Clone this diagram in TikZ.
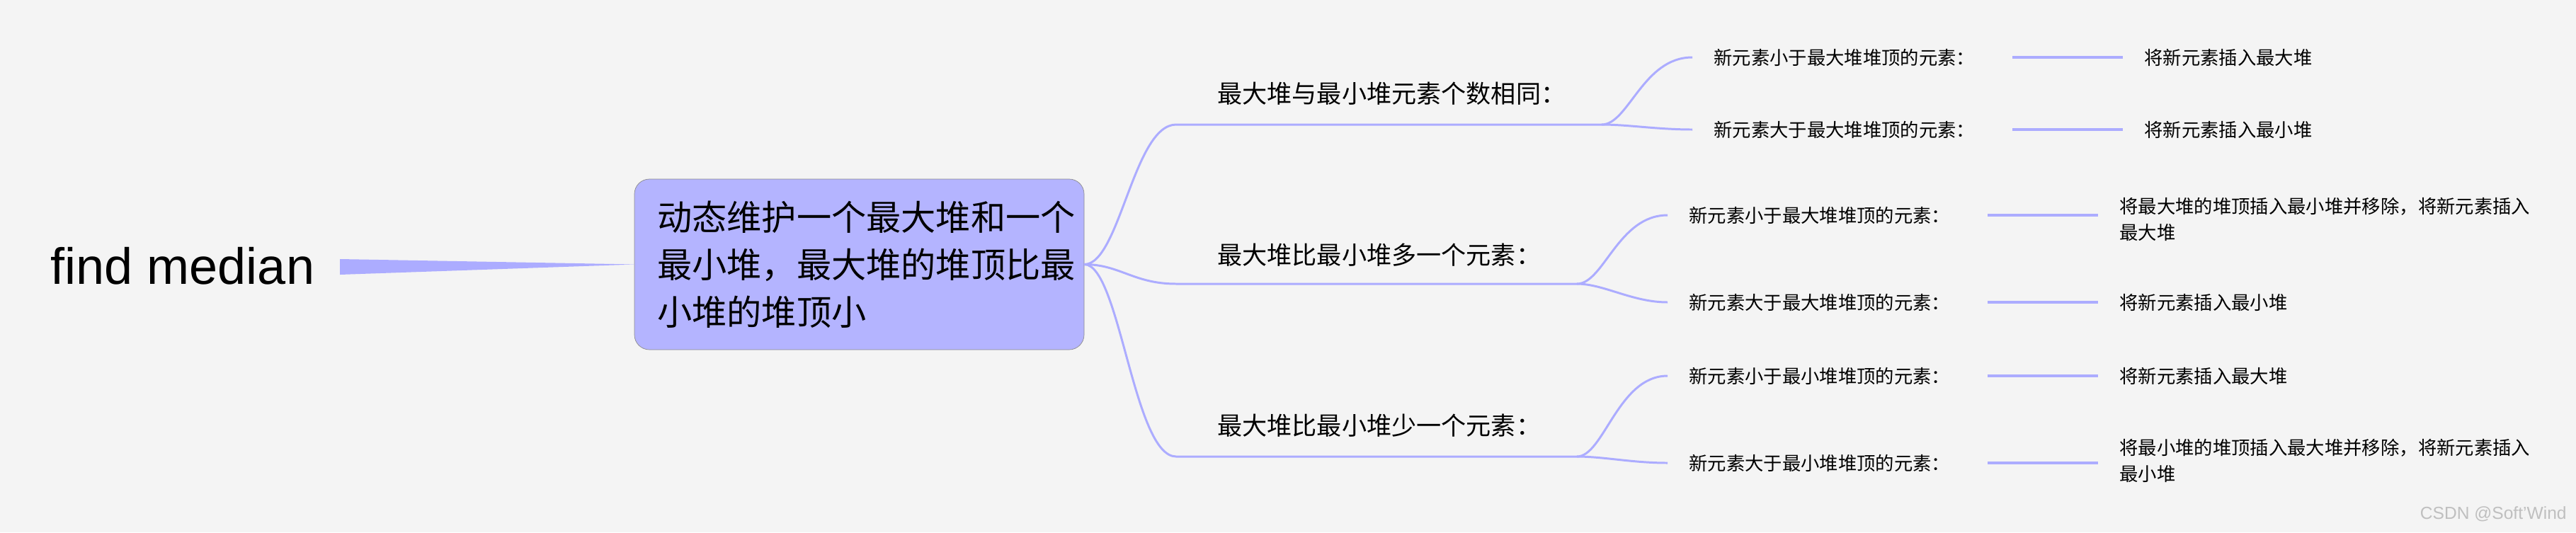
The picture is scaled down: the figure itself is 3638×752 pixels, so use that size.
\documentclass[tikz,border=0pt]{standalone}
\usepackage{fontspec}
\usetikzlibrary{calc}
\setmainfont{Liberation Sans}
\newfontfamily\cjk{Noto Sans CJK SC}
\begin{document}
\begin{tikzpicture}[x=0.02cm,y=-0.02cm,
  conn/.style={draw=lineblue,line width=1.7pt},
  short/.style={draw=lineblue,line width=2.8pt},
  brtext/.style={anchor=west,inner sep=0,font=\cjk\fontsize{20}{24}\selectfont},
  lftext/.style={anchor=west,inner sep=0,font=\cjk\fontsize{15}{18}\selectfont},
  lf2text/.style={anchor=north west,inner sep=0,align=left,font=\cjk\fontsize{15}{21}\selectfont}]
\definecolor{lineblue}{RGB}{172,172,255}
\definecolor{boxblue}{RGB}{180,180,255}
\definecolor{bg}{RGB}{244,244,244}
\fill[bg] (0,0) rectangle (3638,752);
\useasboundingbox (0,0) rectangle (3638,752);
% root
\node[anchor=center,inner sep=0,font=\fontsize{41}{48}\selectfont] (root) at (258,376) {find median};
\node[draw=black!45,fill=boxblue,rounded corners=12pt,minimum width=635*0.02cm,minimum height=241*0.02cm,inner sep=0] (main) at (1213.5,373.5) {};
\node[anchor=west,inner sep=0,align=left,font=\cjk\fontsize{28}{38}\selectfont] (maintext) at (928,374) {动态维护一个最大堆和一个\\最小堆，最大堆的堆顶比最\\小堆的堆顶小};
\fill[lineblue] (480,366) -- (480,388) -- (main.west) -- cycle;
% branches
\coordinate (b1s) at (1661,176); \coordinate (b1e) at (2262,176);
\coordinate (b2s) at (1661,401); \coordinate (b2e) at (2227,401);
\coordinate (b3s) at (1661,645); \coordinate (b3e) at (2227,645);
\node[brtext] (b1) at (1719,132) {最大堆与最小堆元素个数相同：};
\node[brtext] (b2) at (1719,360) {最大堆比最小堆多一个元素：};
\node[brtext] (b3) at (1719,601) {最大堆比最小堆少一个元素：};
\foreach \b in {b1,b2,b3}{
  \draw[conn] (main.east) .. controls ($(main.east)+(50,0)$) and ($(\b s)+(-60,0)$) .. (\b s) -- (\b e);
}
% leaves
\coordinate (l1) at (2390,81);  \coordinate (l2) at (2390,183);
\coordinate (l3) at (2355,304); \coordinate (l4) at (2355,427);
\coordinate (l5) at (2355,531); \coordinate (l6) at (2355,654);
\node[lftext] (t1) at (2420,81) {新元素小于最大堆堆顶的元素：};
\node[lftext] (t2) at (2420,183) {新元素大于最大堆堆顶的元素：};
\node[lftext] (t3) at (2385,304) {新元素小于最大堆堆顶的元素：};
\node[lftext] (t4) at (2385,427) {新元素大于最大堆堆顶的元素：};
\node[lftext] (t5) at (2385,531) {新元素小于最小堆堆顶的元素：};
\node[lftext] (t6) at (2385,654) {新元素大于最小堆堆顶的元素：};
\draw[conn] (b1e) .. controls (2300,176) and (2320,81) .. (l1);
\draw[conn] (b1e) .. controls (2300,176) and (2340,183) .. (l2);
\draw[conn] (b2e) .. controls (2265,401) and (2285,304) .. (l3);
\draw[conn] (b2e) .. controls (2265,401) and (2305,427) .. (l4);
\draw[conn] (b3e) .. controls (2265,645) and (2285,531) .. (l5);
\draw[conn] (b3e) .. controls (2265,645) and (2305,654) .. (l6);
% results
\node[lftext] (r1) at (3028,81) {将新元素插入最大堆};
\node[lftext] (r2) at (3028,183) {将新元素插入最小堆};
\node[lf2text] (r3) at (2993,279) {将最大堆的堆顶插入最小堆并移除，将新元素插入\\最大堆};
\node[lftext] (r4) at (2993,427) {将新元素插入最小堆};
\node[lftext] (r5) at (2993,531) {将新元素插入最大堆};
\node[lf2text] (r6) at (2993,620) {将最小堆的堆顶插入最大堆并移除，将新元素插入\\最小堆};
\coordinate (s1a) at (2842,81);  \coordinate (s1b) at (2998,81);
\coordinate (s2a) at (2842,183); \coordinate (s2b) at (2998,183);
\coordinate (s3a) at (2807,304); \coordinate (s3b) at (2963,304);
\coordinate (s4a) at (2807,427); \coordinate (s4b) at (2963,427);
\coordinate (s5a) at (2807,531); \coordinate (s5b) at (2963,531);
\coordinate (s6a) at (2807,654); \coordinate (s6b) at (2963,654);
\foreach \i in {1,...,6}{\draw[short] (s\i a) -- (s\i b);}
% watermark
\node[anchor=east,inner sep=0,text=black!25,font=\fontsize{14}{16}\selectfont] (wm) at (3625,726) {CSDN @Soft'Wind};
\end{tikzpicture}
\end{document}
